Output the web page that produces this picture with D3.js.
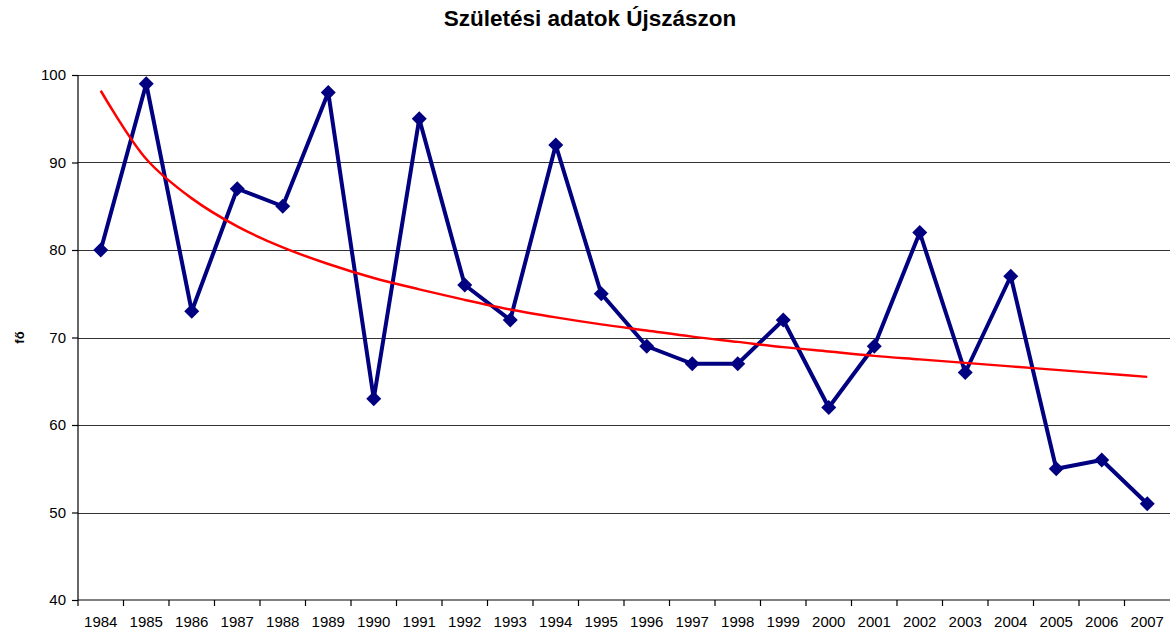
<!DOCTYPE html>
<html lang="hu">
<head>
    <meta charset="UTF-8">
    <title>Születési adatok Újszászon</title>
    <style>
        body { margin: 0; background: #fff; }
        .chart text { font-family: "Liberation Sans", Arial, sans-serif; fill: #000; }
        .axis text { font-size: 15px; }
        .grid line { stroke: #333; stroke-width: 1; shape-rendering: crispEdges; }
    </style>
</head>
<body>
<svg class="chart"></svg>
<script src="https://d3js.org/d3.v7.min.js"></script>
<script>

var years = ["1984", "1985", "1986", "1987", "1988", "1989", "1990", "1991", "1992", "1993", "1994", "1995",
    "1996", "1997", "1998", "1999", "2000", "2001", "2002", "2003", "2004", "2005", "2006", "2007"];

var births = [80, 99, 73, 87, 85, 98, 63, 95, 76, 72, 92, 75, 69, 67, 67, 72, 62, 69, 82, 66, 77, 55, 56, 51];

// trend line
var trend = [98.2, 90.4, 85.9, 82.7, 80.3, 78.4, 76.8, 75.5, 74.3, 73.2, 72.3, 71.5,
    70.8, 70.1, 69.5, 68.9, 68.4, 67.9, 67.5, 67.1, 66.7, 66.3, 65.9, 65.5];

var yTicks = [40, 50, 60, 70, 80, 90, 100];

var width = 1170,
    height = 630,
    margin = {top: 75, right: 0, bottom: 30, left: 78};

var svg = d3.select(".chart")
    .attr("width", width)
    .attr("height", height);

var x = d3.scaleBand()
    .domain(years)
    .range([margin.left, width - margin.right]);

var y = d3.scaleLinear()
    .domain([40, 100])
    .range([height - margin.bottom, margin.top]);

// grid
svg.append("g")
    .attr("class", "grid")
    .selectAll("line")
    .data(yTicks.slice(1))
    .enter().append("line")
    .attr("x1", margin.left)
    .attr("x2", width - margin.right)
    .attr("y1", function(d) { return Math.round(y(d)) + 0.5; })
    .attr("y2", function(d) { return Math.round(y(d)) + 0.5; });

var yAxis = svg.append("g")
    .attr("class", "axis")
    .attr("transform", "translate(" + margin.left + ",0)")
    .call(d3.axisLeft(y).tickValues(yTicks).tickSize(6).tickPadding(6));

var xAxis = svg.append("g")
    .attr("class", "axis")
    .attr("transform", "translate(0," + (height - margin.bottom) + ")")
    .call(d3.axisBottom(x).tickSize(0).tickPadding(16));

// ticks between the categories
xAxis.selectAll(".sep")
    .data(years)
    .enter().append("line")
    .attr("class", "sep")
    .attr("x1", function(d) { return x(d); })
    .attr("x2", function(d) { return x(d); })
    .attr("y1", 0)
    .attr("y2", 6)
    .attr("stroke", "#000");

svg.selectAll(".axis path, .axis line").attr("stroke", "#000").attr("stroke-width", 1.2);
svg.selectAll(".axis path").attr("d", function() {
    return d3.select(this.parentNode).node() === yAxis.node()
        ? "M0," + y(40) + "V" + y(100)
        : "M" + margin.left + ",0H" + (width - margin.right);
});

var cx = function(d, i) { return x(years[i]) + x.bandwidth() / 2; };

svg.append("path")
    .datum(births)
    .attr("fill", "none")
    .attr("stroke", "#000080")
    .attr("stroke-width", 4)
    .attr("stroke-linejoin", "round")
    .attr("d", d3.line().x(cx).y(function(d) { return y(d); }));

svg.selectAll(".pt")
    .data(births)
    .enter().append("path")
    .attr("class", "pt")
    .attr("fill", "#000080")
    .attr("transform", function(d, i) { return "translate(" + cx(d, i) + "," + y(d) + ")"; })
    .attr("d", "M0,-7.5L7.5,0L0,7.5L-7.5,0Z");

svg.append("path")
    .datum(trend)
    .attr("fill", "none")
    .attr("stroke", "#ff0000")
    .attr("stroke-width", 2.5)
    .attr("d", d3.line().x(cx).y(function(d) { return y(d); }).curve(d3.curveCatmullRom));

svg.append("text")
    .attr("x", 590)
    .attr("y", 26)
    .attr("text-anchor", "middle")
    .style("font-size", "22.5px")
    .style("font-weight", "bold")
    .text("Születési adatok Újszászon");

svg.append("text")
    .attr("transform", "translate(24," + (y(70)) + ") rotate(-90)")
    .attr("text-anchor", "middle")
    .style("font-size", "13px")
    .style("font-weight", "bold")
    .text("fő");

</script>
</body>
</html>
